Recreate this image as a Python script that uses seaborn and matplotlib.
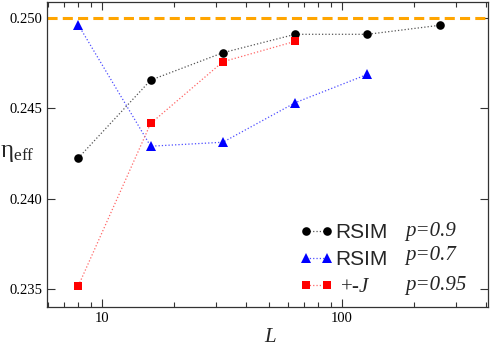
import numpy as np
import pandas as pd
import matplotlib
matplotlib.use("Agg")
import matplotlib.pyplot as plt
import seaborn as sns

# data
L_rsim09 = [8, 16, 32, 64, 128, 256]
eta_rsim09 = [0.24226, 0.24657, 0.24809, 0.24911, 0.24911, 0.24961]
L_rsim07 = [8, 16, 32, 64, 128]
eta_rsim07 = [0.24963, 0.24291, 0.24313, 0.24532, 0.24689]
L_pmj = [8, 16, 32, 64]
eta_pmj = [0.23518, 0.24417, 0.24759, 0.24872]
eta_limit = 0.25

sns.set_style("ticks")
plt.rcParams["font.family"] = ["Liberation Serif", "DejaVu Serif"]
plt.rcParams["mathtext.fontset"] = "custom"
plt.rcParams["mathtext.rm"] = "Liberation Serif"
plt.rcParams["mathtext.it"] = "Liberation Serif:italic"

fig = plt.figure(figsize=(4.91, 3.46), dpi=100)
ax = fig.add_axes([0.0957, 0.1127, 0.8982, 0.8815])

ax.axhline(eta_limit, color="#FFA500", lw=2.2, dashes=(3.3, 1.7), zorder=1)

marker_colors = ["black", "blue", "red"]
line_colors = ["#555555", "#4d4dff", "#ff6666"]

sns.lineplot(x=L_rsim09, y=eta_rsim09, ax=ax, color="black", marker="o",
             markersize=6.2, markeredgewidth=0, linestyle=":", lw=0.9,
             label="RSIM")
sns.lineplot(x=L_rsim07, y=eta_rsim07, ax=ax, color="blue", marker="^",
             markersize=6.5, markeredgewidth=0, linestyle=":", lw=0.9,
             label="RSIM")
sns.lineplot(x=L_pmj, y=eta_pmj, ax=ax, color="red", marker="s",
             markersize=5.5, markeredgewidth=0, linestyle=":", lw=0.9,
             label="+-$J$")

# lighter connecting lines, solid-coloured markers
for line, lc, mc in zip(ax.get_lines()[1:], line_colors, marker_colors):
    line.set_color(lc)
    line.set_markerfacecolor(mc)

ax.set_xscale("log")
ax.set_xlim(5.92, 407)
ax.set_ylim(0.234, 0.2509)
ax.set_yticks([0.235, 0.240, 0.245, 0.250])
ax.set_yticklabels(["0.235", "0.240", "0.245", "0.250"])
ax.set_xticks([10, 100])
ax.set_xticklabels(["10", "100"])

ax.tick_params(which="both", direction="in", top=True, right=True,
               labelsize=10.5, width=0.8, colors="#333333", labelcolor="black")
ax.tick_params(which="major", length=6)
ax.tick_params(which="minor", length=3.5)
for s in ax.spines.values():
    s.set_linewidth(0.9)
    s.set_color("#333333")

ax.set_xlabel("$L$", fontsize=15)
ax.xaxis.set_label_coords(0.506, -0.068)
ax.set_ylabel(r"$\mathrm{\eta}_{\mathrm{eff}}$", fontsize=18, rotation=0)
ax.yaxis.set_label_coords(-0.068, 0.47)

leg = ax.legend(loc="lower right", bbox_to_anchor=(0.815, -0.028),
                frameon=False, numpoints=2, handlelength=1.6,
                handletextpad=0.1, labelspacing=0.38, fontsize=15)
for t in leg.get_texts()[:2]:
    t.set_fontfamily("Liberation Sans")
leg.get_texts()[2].set_text(" +-$J$")

for yy, txt in zip([0.248, 0.168, 0.072], ["p=0.9", "p=0.7", "p=0.95"]):
    ax.text(0.812, yy, txt, transform=ax.transAxes, fontsize=15,
            style="italic", va="center", ha="left")

fig.savefig("out.png", dpi=100)
